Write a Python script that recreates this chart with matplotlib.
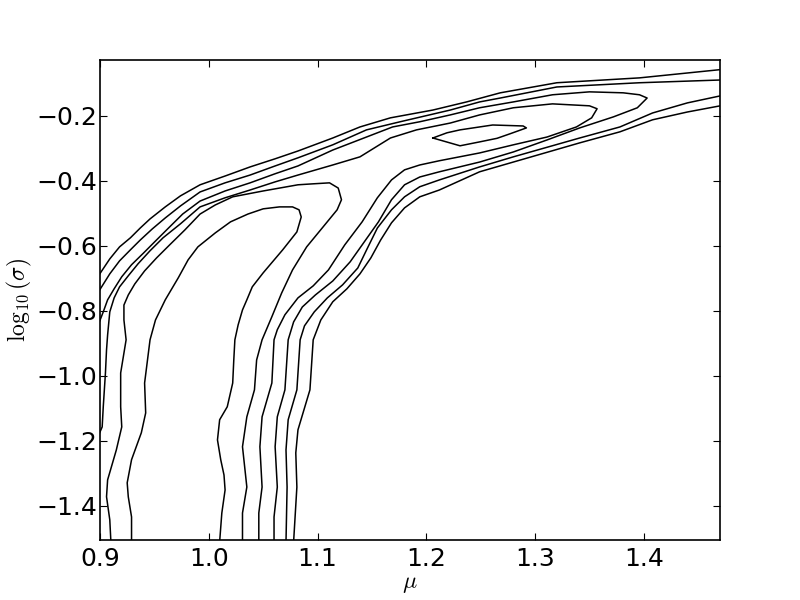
import matplotlib
matplotlib.use('Agg')
import matplotlib.pyplot as plt

# contour lines (mu, log10 sigma)
# outermost level, upper branch and lower branch
a_up_x = [0.897, 0.909, 0.918, 0.928, 0.937, 0.946, 0.960, 0.974, 0.992, 1.015, 1.038, 1.061,
          1.082, 1.114, 1.139, 1.167, 1.206, 1.237, 1.268, 1.320, 1.396, 1.475]
a_up_y = [-0.700, -0.640, -0.603, -0.575, -0.545, -0.517, -0.480, -0.446, -0.412, -0.385, -0.357, -0.332,
          -0.308, -0.268, -0.234, -0.206, -0.182, -0.157, -0.129, -0.098, -0.083, -0.056]
a_low_x = [1.475, 1.440, 1.408, 1.378, 1.341, 1.280, 1.249, 1.212, 1.194, 1.180, 1.168, 1.158,
           1.149, 1.139, 1.127, 1.114, 1.103, 1.096, 1.093, 1.082, 1.080, 1.081, 1.078]
a_low_y = [-0.166, -0.188, -0.212, -0.249, -0.283, -0.342, -0.372, -0.428, -0.449, -0.483, -0.529, -0.582,
           -0.637, -0.686, -0.732, -0.772, -0.828, -0.889, -1.043, -1.166, -1.237, -1.342, -1.510]

# second level
b_up_x = [0.897, 0.909, 0.918, 0.928, 0.937, 0.948, 0.960, 0.974, 0.992, 1.015, 1.038, 1.061,
          1.082, 1.114, 1.145, 1.176, 1.222, 1.249, 1.268, 1.320, 1.396, 1.475]
b_up_y = [-0.750, -0.686, -0.646, -0.612, -0.582, -0.548, -0.514, -0.477, -0.434, -0.406, -0.382, -0.354,
          -0.329, -0.289, -0.243, -0.218, -0.182, -0.157, -0.145, -0.111, -0.098, -0.089]
b_low_x = [1.475, 1.440, 1.408, 1.378, 1.341, 1.280, 1.249, 1.212, 1.194, 1.180, 1.168, 1.155,
           1.146, 1.137, 1.123, 1.109, 1.097, 1.088, 1.084, 1.081, 1.073, 1.071, 1.072, 1.071]
b_low_y = [-0.135, -0.160, -0.191, -0.234, -0.268, -0.326, -0.357, -0.397, -0.418, -0.449, -0.489, -0.545,
           -0.606, -0.668, -0.720, -0.760, -0.803, -0.846, -0.889, -1.043, -1.135, -1.228, -1.342, -1.510]

# third level (tip near mu = 1.40)
c_x = [0.897, 0.903, 0.907, 0.913, 0.920, 0.929, 0.940, 0.951, 0.963, 0.976, 0.992, 1.015, 1.038,
       1.061, 1.082, 1.114, 1.145, 1.169, 1.194, 1.222, 1.249, 1.280, 1.316, 1.350, 1.381, 1.396,
       1.403, 1.394, 1.372, 1.341, 1.311, 1.280, 1.249, 1.212, 1.194, 1.180, 1.168, 1.156, 1.141,
       1.130, 1.114, 1.098, 1.086, 1.078, 1.073, 1.070, 1.063, 1.061, 1.063, 1.060, 1.060]
c_y = [-0.855, -0.803, -0.766, -0.732, -0.695, -0.658, -0.622, -0.585, -0.545, -0.502, -0.462, -0.431, -0.406,
       -0.378, -0.354, -0.305, -0.265, -0.234, -0.218, -0.197, -0.175, -0.157, -0.135, -0.126, -0.129, -0.135,
       -0.145, -0.175, -0.203, -0.237, -0.274, -0.311, -0.342, -0.372, -0.388, -0.412, -0.458, -0.526, -0.597,
       -0.649, -0.708, -0.751, -0.788, -0.834, -0.889, -1.043, -1.126, -1.218, -1.342, -1.434, -1.510]

# fourth level (tip near mu = 1.36)
d_x = [0.897, 0.902, 0.903, 0.905, 0.906, 0.907, 0.909, 0.913, 0.918, 0.926, 0.935, 0.946, 0.958,
       0.974, 0.992, 1.015, 1.038, 1.061, 1.082, 1.114, 1.139, 1.167, 1.191, 1.222, 1.249, 1.280,
       1.316, 1.350, 1.357, 1.352, 1.338, 1.311, 1.280, 1.249, 1.212, 1.194, 1.180, 1.168, 1.155,
       1.141, 1.125, 1.110, 1.096, 1.082, 1.070, 1.063, 1.060, 1.058, 1.049, 1.047, 1.049, 1.046, 1.046]
d_y = [-1.196, -1.157, -1.095, -0.991, -0.920, -0.874, -0.803, -0.760, -0.726, -0.692, -0.655, -0.615, -0.575,
       -0.532, -0.480, -0.452, -0.428, -0.403, -0.382, -0.351, -0.326, -0.268, -0.243, -0.222, -0.197, -0.175,
       -0.163, -0.169, -0.178, -0.206, -0.234, -0.265, -0.289, -0.314, -0.338, -0.351, -0.366, -0.397, -0.452,
       -0.526, -0.597, -0.674, -0.723, -0.760, -0.812, -0.858, -0.889, -1.022, -1.126, -1.218, -1.342, -1.422, -1.510]

# fifth level: tongue along the left band
e_x = [0.910, 0.909, 0.906, 0.907, 0.915, 0.920, 0.919, 0.919, 0.924, 0.922, 0.922, 0.926, 0.932,
       0.941, 0.952, 0.964, 0.978, 0.992, 1.006, 1.022, 1.050, 1.082, 1.096, 1.111, 1.119, 1.122,
       1.118, 1.105, 1.090, 1.077, 1.067, 1.058, 1.049, 1.044, 1.042, 1.035, 1.031, 1.035, 1.031, 1.031]
e_y = [-1.510, -1.443, -1.372, -1.320, -1.228, -1.157, -1.095, -0.991, -0.889, -0.828, -0.782, -0.751, -0.717,
       -0.677, -0.637, -0.597, -0.551, -0.502, -0.474, -0.449, -0.431, -0.412, -0.409, -0.406, -0.422, -0.458,
       -0.489, -0.542, -0.603, -0.674, -0.745, -0.818, -0.889, -0.951, -1.043, -1.126, -1.218, -1.342, -1.422, -1.510]

# sixth level: inner tongue
f_x = [0.929, 0.929, 0.926, 0.925, 0.929, 0.938, 0.942, 0.941, 0.946, 0.951, 0.960, 0.972, 0.981,
       0.990, 1.006, 1.020, 1.036, 1.050, 1.065, 1.077, 1.083, 1.085, 1.081, 1.068, 1.050, 1.040,
       1.035, 1.031, 1.027, 1.024, 1.023, 1.022, 1.017, 1.010, 1.008, 1.011, 1.014, 1.015, 1.012, 1.010]
f_y = [-1.510, -1.434, -1.372, -1.329, -1.258, -1.175, -1.114, -1.022, -0.889, -0.828, -0.766, -0.698, -0.643,
       -0.603, -0.560, -0.526, -0.502, -0.486, -0.480, -0.480, -0.489, -0.511, -0.557, -0.612, -0.683, -0.726,
       -0.766, -0.797, -0.843, -0.889, -0.951, -1.022, -1.095, -1.135, -1.197, -1.258, -1.305, -1.351, -1.422, -1.510]

# small closed contour on the ridge
g_x = [1.206, 1.219, 1.231, 1.243, 1.261, 1.289, 1.292, 1.277, 1.265, 1.249, 1.231, 1.206]
g_y = [-0.268, -0.252, -0.243, -0.237, -0.228, -0.231, -0.237, -0.255, -0.269, -0.280, -0.292, -0.268]

lines = [(a_up_x, a_up_y), (a_low_x, a_low_y), (b_up_x, b_up_y), (b_low_x, b_low_y),
         (c_x, c_y), (d_x, d_y), (e_x, e_y), (f_x, f_y), (g_x, g_y)]

plt.rcParams['mathtext.fontset'] = 'cm'

fig = plt.figure(figsize=(8, 6), dpi=100)
ax = fig.add_axes([0.125, 0.1, 0.775, 0.8])

for xs, ys in lines:
    ax.plot(xs, ys, color='black', linewidth=1.1)

ax.set_xlim(0.9, 1.47)
ax.set_ylim(-1.505, -0.028)
ax.set_xticks([0.9, 1.0, 1.1, 1.2, 1.3, 1.4])
ax.set_yticks([-1.4, -1.2, -1.0, -0.8, -0.6, -0.4, -0.2])
ax.tick_params(direction='in', top=True, right=True, length=5, labelsize=18)
ax.tick_params(axis='x', pad=5)
ax.tick_params(axis='y', pad=2)
for s in ax.spines.values():
    s.set_linewidth(1.2)

ax.set_xlabel(r'$\mu$', fontsize=17, labelpad=0)
ax.set_ylabel(r'$\log_{10}(\sigma)$', fontsize=17, labelpad=2)

fig.savefig('out.png', dpi=100, facecolor='white')
